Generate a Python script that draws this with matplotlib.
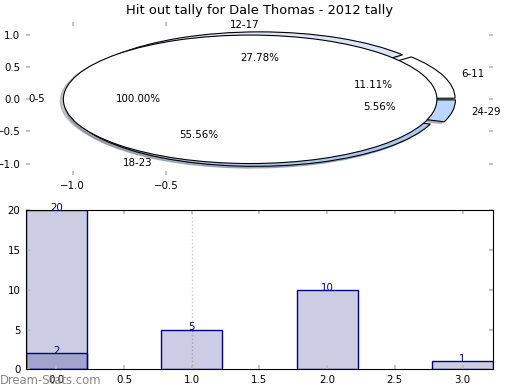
import matplotlib.pyplot as plt

# pie data
main_label = ["0-5"]
main_share = [1]
age_labels = ["6-11", "12-17", "18-23", "24-29"]
age_counts = [2, 5, 10, 1]
age_colors = ["#ffffff", "#dde6f8", "#aac8f0", "#bbd7ff"]

# bar data
bar_x = [0, 1, 2, 3]
bar_vals = [20, 5, 10, 1]
bar2_x = [0]
bar2_vals = [2]

fs = 7.4
shadow = dict(ox=-0.012, oy=-0.02, shade=0.45)

fig = plt.figure(figsize=(5.2, 3.9), dpi=100)
ax1 = fig.add_axes([0.05, 0.551, 0.898, 0.392])
ax2 = fig.add_axes([0.05, 0.053, 0.898, 0.408])

# top: pie drawn twice, outer groups first then the full 0-5 wedge on top
w, t, p = ax1.pie(age_counts, labels=age_labels, colors=age_colors,
                  explode=[0.05] * 4, autopct="%1.2f%%", shadow=shadow,
                  startangle=0, labeldistance=1.1, pctdistance=0.6,
                  wedgeprops=dict(edgecolor="black", linewidth=0.8),
                  textprops=dict(fontsize=fs), frame=True)
t[1].set_ha("right")
w2, t2, p2 = ax1.pie(main_share, labels=main_label, colors=["white"],
                     explode=[0.05], autopct="%1.2f%%", shadow=shadow,
                     startangle=0, labeldistance=1.1, pctdistance=0.6,
                     wedgeprops=dict(edgecolor="black", linewidth=0.8),
                     textprops=dict(fontsize=fs), frame=True)
ax1.set_aspect("auto")
ax1.set_xlim(-1.25, 1.25)
ax1.set_ylim(-1.18, 1.2)
ax1.set_frame_on(False)
ax1.set_xticks([-1.0, -0.5])
ax1.set_yticks([-1.0, -0.5, 0.0, 0.5, 1.0])
ax1.tick_params(direction="in", length=3, color="#bbbbbb", width=1.2,
                top=True, right=True, labelsize=fs, pad=4)
ax1.set_title("Hit out tally for Dale Thomas - 2012 tally", fontsize=9.4, pad=6)

# bottom: bars
ax2.bar(bar_x, bar_vals, width=0.45, color="navy", alpha=0.2)
ax2.bar(bar_x, bar_vals, width=0.45, fill=False, edgecolor="navy", linewidth=1)
ax2.bar(bar2_x, bar2_vals, width=0.45, color="navy", alpha=0.2)
ax2.bar(bar2_x, bar2_vals, width=0.45, fill=False, edgecolor="navy", linewidth=1)
for x, v in list(zip(bar_x, bar_vals)) + list(zip(bar2_x, bar2_vals)):
    ax2.annotate(str(v), (x, v), xytext=(0, -2), textcoords="offset points",
                 ha="center", va="bottom", color="navy", fontsize=fs)
ax2.axvline(1.0, color="#cccccc", linestyle=":", linewidth=1, zorder=0)
ax2.set_xlim(-0.225, 3.225)
ax2.set_ylim(0, 20)
ax2.set_xticks([0, 0.5, 1.0, 1.5, 2.0, 2.5, 3.0])
ax2.set_yticks([0, 5, 10, 15, 20])
ax2.tick_params(direction="in", length=3, color="#bbbbbb", width=1.2,
                top=True, right=True, labelsize=fs, pad=4)
for s in ax2.spines.values():
    s.set_linewidth(0.8)

fig.text(0.0, 0.008, "Dream-Stats.com", color="#888888", fontsize=8.4,
         ha="left", va="bottom")

fig.savefig("out.png", dpi=100)
